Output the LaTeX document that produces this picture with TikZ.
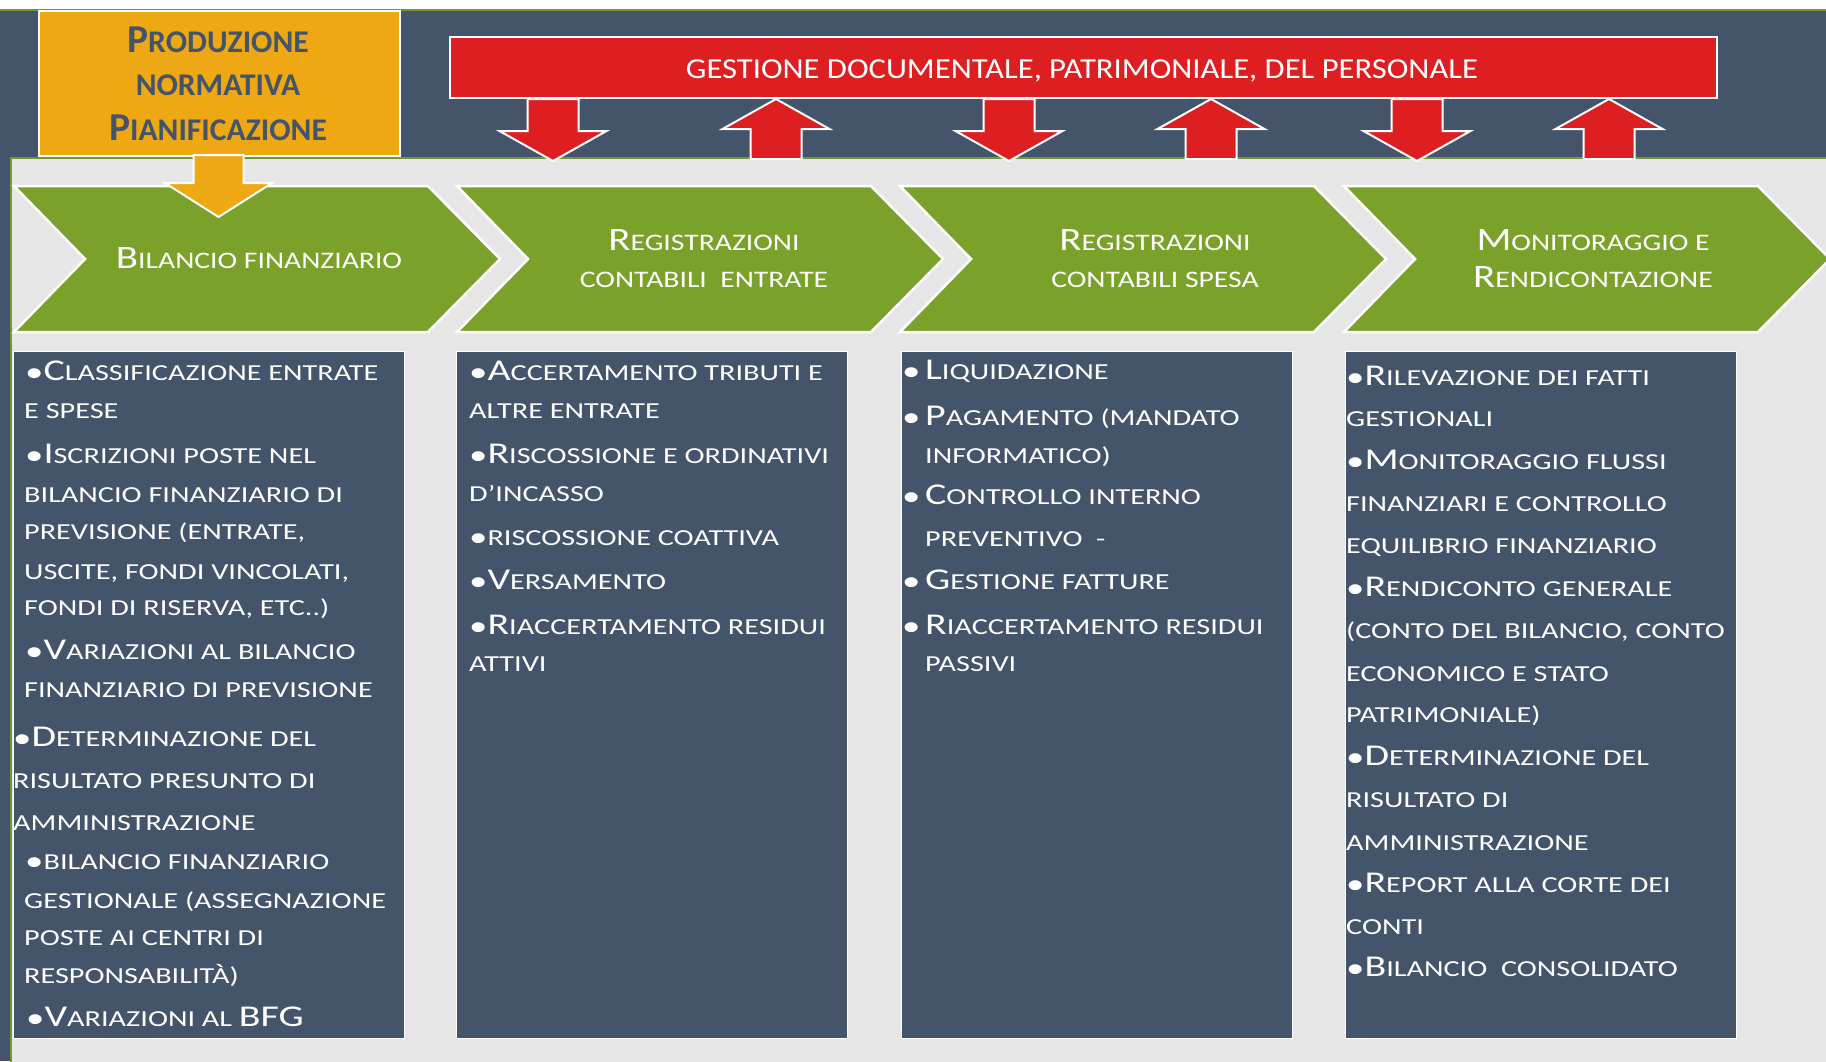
\documentclass[tikz,border=0pt]{standalone}
\usepackage{fontspec}
\usepackage{graphicx}
\setmainfont{Carlito}
\newfontfamily\boxfont{Carlito}[FakeStretch=1.32]
\newfontfamily\chevfont{Carlito}[FakeStretch=1.25]
\newfontfamily\banfont{Carlito}[FakeStretch=1.125]
\newcommand\Bg[1]{\scalebox{1.32}{#1}}
\newcommand\Bc[1]{\scalebox{1.38}{#1}}
\newcommand\Bo[1]{\scalebox{1.25}{#1}}
\newcommand\Bu{\raisebox{-1.4pt}{\scalebox{1.22}{•}}}
\newcommand\TL[4]{\node[tl] (#1) at (#2,#3) {#4};}
\definecolor{slate}{HTML}{44546A}
\definecolor{grn}{HTML}{7AA12A}
\definecolor{grnline}{HTML}{6E9A2E}
\definecolor{redc}{HTML}{DD1F22}
\definecolor{orangec}{HTML}{EEA814}
\definecolor{greyc}{HTML}{E6E6E6}
\tikzset{
  tl/.style={anchor=base west, inner sep=0pt, text=white, font=\boxfont\fontsize{22.9}{24}\selectfont},
  chtxt/.style={anchor=base, inner sep=0pt, text=white, font=\chevfont\fontsize{23.7}{25}\selectfont},
  ortxt/.style={anchor=base, inner sep=0pt, text=slate, font=\bfseries\fontsize{31.6}{33}\selectfont},
  chev/.style={fill=grn, draw=white, line width=2.5pt, line join=miter},
  redarrow/.style={fill=redc, draw=white, line width=2pt, line join=miter},
  listbox/.style={fill=slate, draw=white, line width=1pt, anchor=north west, minimum width=391pt, minimum height=687pt, inner sep=0pt},
}
\begin{document}
\begin{tikzpicture}[x=1pt,y=-1pt]
\useasboundingbox (0,0) rectangle (1826,1061);
\clip (0,0) rectangle (1826,1061);
% backgrounds
\fill[white] (0,0) rectangle (1826,1061);
\fill[slate] (0,10) rectangle (1826,1061);
\draw[grnline, line width=2pt] (0,10) -- (1826,10);
\fill[greyc] (10,157) rectangle (1830,1065);
\draw[grnline, line width=2.5pt] (11,1065) -- (11,158) -- (1830,158);
% chevrons
\foreach \L in {14,457,900,1344}{
  \draw[chev] (\L,186) -- ({\L+414},186) -- ({\L+486},259) -- ({\L+414},332) -- (\L,332) -- ({\L+71},259) -- cycle;
}
% orange box and arrow
\node[fill=orangec, draw=white, line width=2pt, anchor=north west, minimum width=361pt, minimum height=145pt, inner sep=0pt] (prod) at (38,10) {};
\draw[fill=orangec, draw=white, line width=2pt, line join=miter] (193.5,155) -- (243.5,155) -- (243.5,183) -- (272,183) -- (218.5,217) -- (165,183) -- (193.5,183) -- cycle;
\node[ortxt] (prod1) at (218,52) {\Bo{P}RODUZIONE};
\node[ortxt] (prod2) at (218,95) {NORMATIVA};
\node[ortxt] (prod3) at (218,140) {\Bo{P}IANIFICAZIONE};
% red banner
\node[fill=redc, draw=white, line width=2pt, anchor=north west, minimum width=1267pt, minimum height=61pt, inner sep=0pt] (gest) at (449,36) {};
\node[anchor=base, inner sep=0pt, text=white, font=\banfont\fontsize{29}{30}\selectfont] (gesttxt) at (1082,78) {GESTIONE DOCUMENTALE, PATRIMONIALE, DEL PERSONALE};
% red arrows
\foreach \c in {553,1009,1417}{
  \draw[redarrow] ({\c-25.5},99) -- ({\c+25.5},99) -- ({\c+25.5},131) -- ({\c+53.5},131) -- (\c,161) -- ({\c-53.5},131) -- ({\c-25.5},131) -- cycle;
}
\foreach \c in {776,1211,1609}{
  \draw[redarrow] (\c,99) -- ({\c+53.5},129) -- ({\c+25.5},129) -- ({\c+25.5},159) -- ({\c-25.5},159) -- ({\c-25.5},129) -- ({\c-53.5},129) -- cycle;
}
% chevron titles
\node[chtxt] (c1) at (259,268) {\Bc{B}ILANCIO FINANZIARIO};
\node[chtxt] (c2a) at (704,250) {\Bc{R}EGISTRAZIONI};
\node[chtxt] (c2b) at (704,287) {CONTABILI\ \ ENTRATE};
\node[chtxt] (c3a) at (1155,250) {\Bc{R}EGISTRAZIONI};
\node[chtxt] (c3b) at (1155,287) {CONTABILI SPESA};
\node[chtxt] (c4a) at (1593,250) {\Bc{M}ONITORAGGIO E};
\node[chtxt] (c4b) at (1593,287) {\Bc{R}ENDICONTAZIONE};
% list boxes
\node[listbox] (box1) at (13,351) {};
\node[listbox] (box2) at (456,351) {};
\node[listbox] (box3) at (901,351) {};
\node[listbox] (box4) at (1345,351) {};
% box 1
\TL{b1a}{25}{380}{\Bu\Bg{C}LASSIFICAZIONE ENTRATE}
\TL{b1b}{24}{418}{E SPESE}
\TL{b1c}{25}{463}{\Bu\Bg{I}SCRIZIONI POSTE NEL}
\TL{b1d}{24}{502}{BILANCIO FINANZIARIO DI}
\TL{b1e}{24}{539}{PREVISIONE (ENTRATE,}
\TL{b1f}{24}{579}{USCITE, FONDI VINCOLATI,}
\TL{b1g}{24}{615}{FONDI DI RISERVA, ETC..)}
\TL{b1h}{25}{659}{\Bu\Bg{V}ARIAZIONI AL BILANCIO}
\TL{b1i}{24}{697}{FINANZIARIO DI PREVISIONE}
\TL{b1j}{13}{746}{\Bu\Bg{D}ETERMINAZIONE DEL}
\TL{b1k}{13}{788}{RISULTATO PRESUNTO DI}
\TL{b1l}{13}{830}{AMMINISTRAZIONE}
\TL{b1m}{25}{869}{\Bu BILANCIO FINANZIARIO}
\TL{b1n}{24}{908}{GESTIONALE (ASSEGNAZIONE}
\TL{b1o}{24}{945}{POSTE AI CENTRI DI}
\TL{b1p}{24}{983}{RESPONSABILITÀ)}
\TL{b1q}{26}{1026}{\Bu\Bg{V}ARIAZIONI AL \Bg{BFG}}
% box 2
\TL{b2a}{469}{380}{\Bu\Bg{A}CCERTAMENTO TRIBUTI E}
\TL{b2b}{469}{418}{ALTRE ENTRATE}
\TL{b2c}{469}{463}{\Bu\Bg{R}ISCOSSIONE E ORDINATIVI}
\TL{b2d}{469}{501}{D’INCASSO}
\TL{b2e}{469}{545}{\Bu RISCOSSIONE COATTIVA}
\TL{b2f}{469}{589}{\Bu\Bg{V}ERSAMENTO}
\TL{b2g}{469}{634}{\Bu\Bg{R}IACCERTAMENTO RESIDUI}
\TL{b2h}{469}{671}{ATTIVI}
% box 3
\TL{b3a}{902}{379}{\makebox[23pt][l]{\Bu}\Bg{L}IQUIDAZIONE}
\TL{b3b}{902}{425}{\makebox[23pt][l]{\Bu}\Bg{P}AGAMENTO (MANDATO}
\TL{b3c}{925}{463}{INFORMATICO)}
\TL{b3d}{902}{504}{\makebox[23pt][l]{\Bu}\Bg{C}ONTROLLO INTERNO}
\TL{b3e}{925}{546}{PREVENTIVO\ \ -}
\TL{b3f}{902}{589}{\makebox[23pt][l]{\Bu}\Bg{G}ESTIONE FATTURE}
\TL{b3g}{902}{634}{\makebox[23pt][l]{\Bu}\Bg{R}IACCERTAMENTO RESIDUI}
\TL{b3h}{925}{671}{PASSIVI}
% box 4
\TL{b4a}{1346}{385}{\Bu\Bg{R}ILEVAZIONE DEI FATTI}
\TL{b4b}{1346}{426}{GESTIONALI}
\TL{b4c}{1346}{469}{\Bu\Bg{M}ONITORAGGIO FLUSSI}
\TL{b4d}{1346}{511}{FINANZIARI E CONTROLLO}
\TL{b4e}{1346}{553}{EQUILIBRIO FINANZIARIO}
\TL{b4f}{1346}{596}{\Bu\Bg{R}ENDICONTO GENERALE}
\TL{b4g}{1346}{638}{(CONTO DEL BILANCIO, CONTO}
\TL{b4h}{1346}{681}{ECONOMICO E STATO}
\TL{b4i}{1346}{722}{PATRIMONIALE)}
\TL{b4j}{1346}{765}{\Bu\Bg{D}ETERMINAZIONE DEL}
\TL{b4k}{1346}{807}{RISULTATO DI}
\TL{b4l}{1346}{850}{AMMINISTRAZIONE}
\TL{b4m}{1346}{892}{\Bu\Bg{R}EPORT ALLA CORTE DEI}
\TL{b4n}{1346}{934}{CONTI}
\TL{b4o}{1346}{976}{\Bu\Bg{B}ILANCIO\ \ CONSOLIDATO}
\end{tikzpicture}
\end{document}
